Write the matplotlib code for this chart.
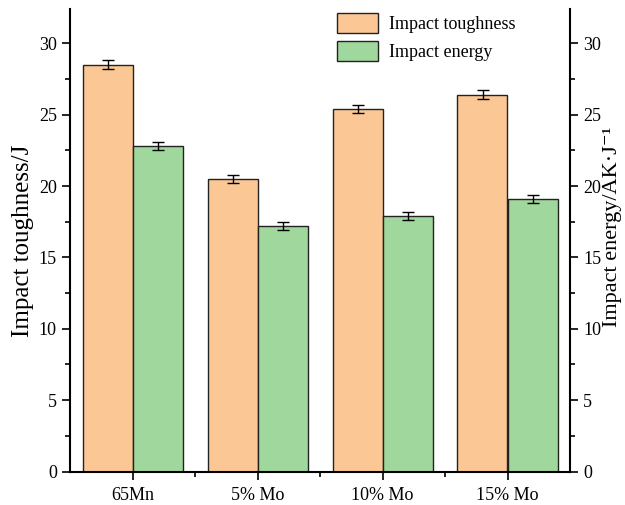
import matplotlib
matplotlib.use("Agg")
import matplotlib.pyplot as plt
import numpy as np
from matplotlib.ticker import MultipleLocator, FixedLocator

plt.rcParams['font.family'] = ['Liberation Serif', 'DejaVu Serif']

categories = ['65Mn', '5% Mo', '10% Mo', '15% Mo']
toughness = [28.5, 20.5, 25.4, 26.4]
toughness_err = [0.3, 0.3, 0.3, 0.3]
energy = [22.8, 17.2, 17.9, 19.1]
energy_err = [0.3, 0.3, 0.3, 0.3]

fig = plt.figure(figsize=(6.25, 5.05), dpi=100)
ax = fig.add_axes([70/625, 1 - 471.5/505, 500/625, (471.5 - 9)/505])
x = np.arange(len(categories))
w = 0.4
orange = '#FBC895'
green = '#A0D79D'
ax.bar(x - w/2, toughness, w, color=orange, edgecolor='#222222', linewidth=1.0,
       yerr=toughness_err, capsize=4, error_kw=dict(elinewidth=1, capthick=1, ecolor='black'),
       label='Impact toughness')
ax.bar(x + w/2, energy, w, color=green, edgecolor='#222222', linewidth=1.0,
       yerr=energy_err, capsize=4, error_kw=dict(elinewidth=1, capthick=1, ecolor='black'),
       label='Impact energy')

ax.set_xlim(-0.5, 3.5)
ax.set_ylim(0, 32.4)
ax.set_xticks(x)
ax.set_xticklabels(categories, fontsize=13)
ax.xaxis.set_minor_locator(FixedLocator([0.5, 1.5, 2.5]))
ax.yaxis.set_major_locator(MultipleLocator(5))
ax.yaxis.set_minor_locator(MultipleLocator(2.5))
ax.tick_params(axis='both', which='major', direction='out', length=6, width=1.2, labelsize=13)
ax.tick_params(axis='both', which='minor', direction='out', length=3.5, width=1.2)
ax.tick_params(axis='x', which='major', pad=5)
for s in ['left', 'bottom', 'right']:
    ax.spines[s].set_linewidth(1.5)
ax.spines['top'].set_visible(False)
ax.spines['right'].set_visible(False)
ax.set_ylabel('Impact toughness/J', fontsize=18, va='center')
ax.yaxis.set_label_coords(-0.094, 0.498)

ax2 = ax.twinx()
ax2.set_ylim(0, 32.4)
ax2.yaxis.set_major_locator(MultipleLocator(5))
ax2.yaxis.set_minor_locator(MultipleLocator(2.5))
ax2.tick_params(axis='y', which='major', direction='out', length=6, width=1.2, labelsize=13)
ax2.tick_params(axis='y', which='minor', direction='out', length=3.5, width=1.2)
ax2.spines['top'].set_visible(False)
ax2.spines['right'].set_linewidth(1.5)
ax2.spines['left'].set_visible(False)
ax2.spines['bottom'].set_visible(False)
ax2.set_ylabel('Impact energy/AK\u00b7J\u207b\u00b9', fontsize=16, rotation=90, va='center')
ax2.yaxis.set_label_coords(1.086, 0.53)

leg = ax.legend(loc='upper left', bbox_to_anchor=(0.534, 0.991), frameon=False, fontsize=13,
                borderaxespad=0, borderpad=0,
                handlelength=2.28, handleheight=1.35, handletextpad=0.6, labelspacing=0.42)

fig.savefig('out.png', dpi=100)
